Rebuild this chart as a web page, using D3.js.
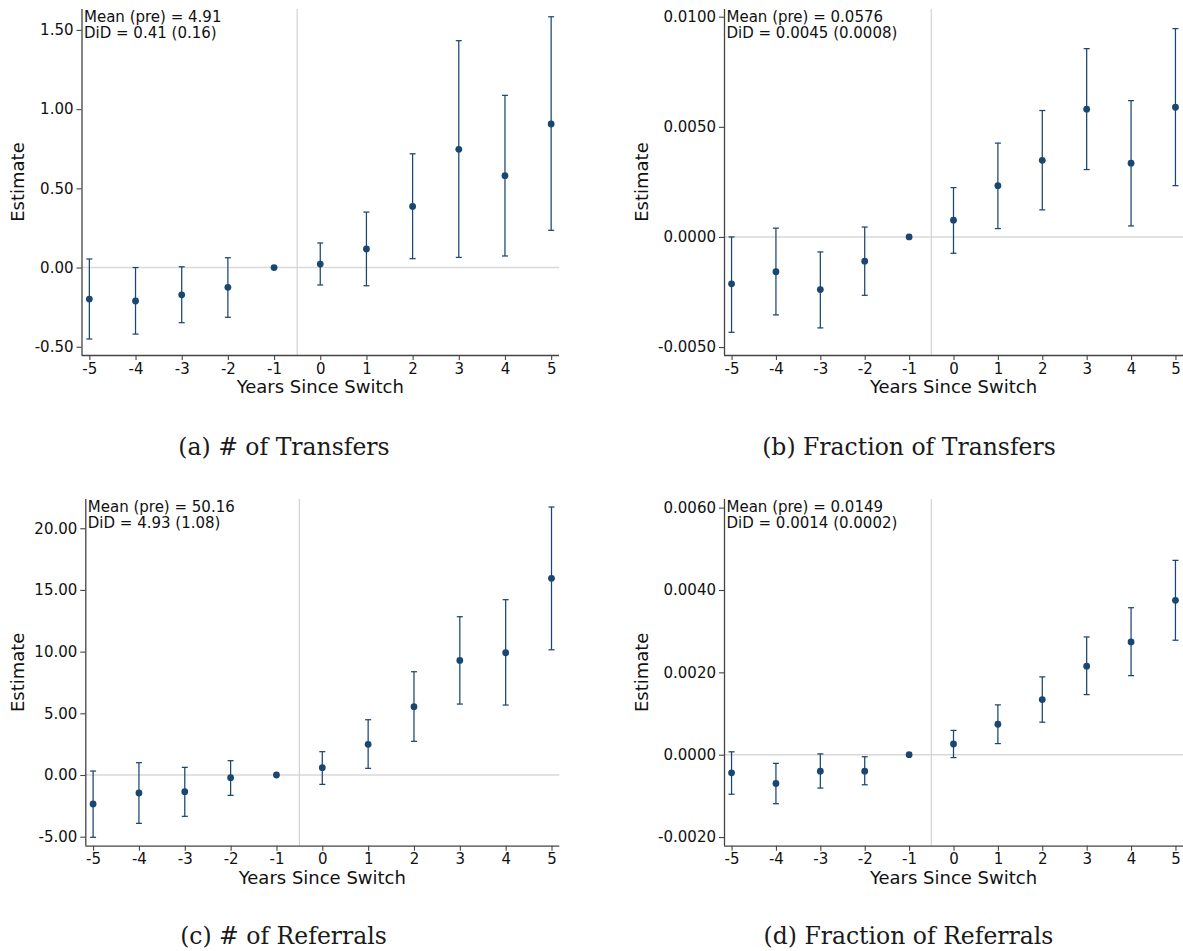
<!DOCTYPE html>
<html>
<head>
<meta charset="utf-8">
<script src="https://cdn.jsdelivr.net/npm/d3@7"></script>
<style>
  html, body { margin: 0; padding: 0; background: #fff; }
  svg { display: block; }
  .tick text { font-family: "DejaVu Sans", sans-serif; }
</style>
</head>
<body>
<svg id="chart" width="1183" height="951"></svg>
<script>
// Event-study estimates by years since switch, with 95% confidence intervals
const years = [-5, -4, -3, -2, -1, 0, 1, 2, 3, 4, 5];

const transfersEst = [-0.199, -0.211, -0.172, -0.125, 0, 0.022, 0.117, 0.386, 0.746, 0.580, 0.906];
const transfersLo  = [-0.451, -0.420, -0.348, -0.314, 0, -0.110, -0.115, 0.056, 0.064, 0.073, 0.235];
const transfersHi  = [0.054, 0.000, 0.005, 0.062, 0, 0.155, 0.350, 0.718, 1.432, 1.087, 1.583];

const fracTransfersEst = [-0.00213, -0.00158, -0.00239, -0.00110, 0, 0.00076, 0.00233, 0.00348, 0.00580, 0.00335, 0.00589];
const fracTransfersLo  = [-0.00433, -0.00354, -0.00413, -0.00265, 0, -0.00074, 0.00038, 0.00123, 0.00306, 0.00050, 0.00233];
const fracTransfersHi  = [0.00000, 0.00040, -0.00068, 0.00045, 0, 0.00224, 0.00426, 0.00574, 0.00855, 0.00619, 0.00946];

const referralsEst = [-2.35, -1.46, -1.35, -0.22, 0, 0.59, 2.49, 5.54, 9.29, 9.91, 15.94];
const referralsLo  = [-5.05, -3.92, -3.35, -1.65, 0, -0.76, 0.54, 2.73, 5.75, 5.67, 10.15];
const referralsHi  = [0.32, 1.00, 0.62, 1.16, 0, 1.89, 4.48, 8.37, 12.83, 14.21, 21.72];

const fracReferralsEst = [-0.00044, -0.00070, -0.00040, -0.00040, 0, 0.00026, 0.00074, 0.00134, 0.00215, 0.00274, 0.00375];
const fracReferralsLo  = [-0.00096, -0.00119, -0.00081, -0.00073, 0, -0.00007, 0.00027, 0.00079, 0.00146, 0.00192, 0.00278];
const fracReferralsHi  = [0.00007, -0.00021, 0.00002, -0.00005, 0, 0.00059, 0.00121, 0.00189, 0.00286, 0.00357, 0.00472];

// Axis ticks
const transfersTicks = [-0.5, 0, 0.5, 1.0, 1.5];
const fracTransfersTicks = [-0.005, 0, 0.005, 0.01];
const referralsTicks = [-5, 0, 5, 10, 15, 20];
const fracReferralsTicks = [-0.002, 0, 0.002, 0.004, 0.006];

// Annotations and captions
const transfersNote = ["Mean (pre) = 4.91", "DiD = 0.41 (0.16)"];
const fracTransfersNote = ["Mean (pre) = 0.0576", "DiD = 0.0045 (0.0008)"];
const referralsNote = ["Mean (pre) = 50.16", "DiD = 4.93 (1.08)"];
const fracReferralsNote = ["Mean (pre) = 0.0149", "DiD = 0.0014 (0.0002)"];

const captions = ["(a) # of Transfers", "(b) Fraction of Transfers", "(c) # of Referrals", "(d) Fraction of Referrals"];

const xLabel = "Years Since Switch";
const yLabel = "Estimate";

const NAVY = "#1a476f";
const locale = d3.formatLocale({decimal: ".", thousands: ",", grouping: [3], currency: ["$", ""], minus: "-"});

const panels = [
  {est: transfersEst, lo: transfersLo, hi: transfersHi, ticks: transfersTicks, fmt: ".2f",
   note: transfersNote, caption: captions[0],
   frame: {left: 81.5, right: 559, top: 9, bottom: 355}, yDomain: [-0.552, 1.632],
   labelX: 17.5, capX: 284, capY: 455},
  {est: fracTransfersEst, lo: fracTransfersLo, hi: fracTransfersHi, ticks: fracTransfersTicks, fmt: ".4f",
   note: fracTransfersNote, caption: captions[1],
   frame: {left: 724, right: 1183, top: 9, bottom: 355}, yDomain: [-0.00536, 0.01035],
   labelX: 641.5, capX: 909, capY: 455},
  {est: referralsEst, lo: referralsLo, hi: referralsHi, ticks: referralsTicks, fmt: ".2f",
   note: referralsNote, caption: captions[2],
   frame: {left: 85.3, right: 559.3, top: 499, bottom: 845.7}, yDomain: [-5.73, 22.37],
   labelX: 17.5, capX: 283.5, capY: 944},
  {est: fracReferralsEst, lo: fracReferralsLo, hi: fracReferralsHi, ticks: fracReferralsTicks, fmt: ".4f",
   note: fracReferralsNote, caption: captions[3],
   frame: {left: 724, right: 1183, top: 499, bottom: 845.7}, yDomain: [-0.00221, 0.00621],
   labelX: 641.5, capX: 908.5, capY: 944}
];

const svg = d3.select("#chart");

panels.forEach(p => {
  const f = p.frame;
  const x = d3.scaleLinear().domain([-5.17, 5.17]).range([f.left, f.right]);
  const y = d3.scaleLinear().domain(p.yDomain).range([f.bottom, f.top]);
  const g = svg.append("g");

  const rows = years.map((yr, i) => ({yr, est: p.est[i], lo: p.lo[i], hi: p.hi[i]}));

  // reference lines
  g.append("line")
    .attr("x1", f.left).attr("x2", f.right)
    .attr("y1", y(0)).attr("y2", y(0))
    .attr("stroke", "#d9d9d9").attr("stroke-width", 1.6);
  g.append("line")
    .attr("x1", x(-0.5)).attr("x2", x(-0.5))
    .attr("y1", f.top).attr("y2", f.bottom)
    .attr("stroke", "#cfcfcf").attr("stroke-width", 1.1);

  // confidence intervals
  const ci = g.append("g").attr("stroke", NAVY).attr("stroke-width", 1.25).attr("fill", "none");
  const withCI = rows.filter(d => d.hi !== d.lo);
  ci.selectAll("line.v").data(withCI).join("line").attr("class", "v")
    .attr("x1", d => x(d.yr)).attr("x2", d => x(d.yr))
    .attr("y1", d => y(d.lo)).attr("y2", d => y(d.hi));
  ci.selectAll("line.top").data(withCI).join("line").attr("class", "top")
    .attr("x1", d => x(d.yr) - 3).attr("x2", d => x(d.yr) + 3)
    .attr("y1", d => y(d.hi)).attr("y2", d => y(d.hi));
  ci.selectAll("line.bot").data(withCI).join("line").attr("class", "bot")
    .attr("x1", d => x(d.yr) - 3).attr("x2", d => x(d.yr) + 3)
    .attr("y1", d => y(d.lo)).attr("y2", d => y(d.lo));

  // point estimates
  g.selectAll("circle").data(rows).join("circle")
    .attr("cx", d => x(d.yr)).attr("cy", d => y(d.est))
    .attr("r", 3.4).attr("fill", NAVY);

  // axes
  const xAxis = d3.axisBottom(x).tickValues(years).tickFormat(locale.format("d"))
    .tickSizeOuter(0).tickSize(5).tickPadding(3);
  const gx = g.append("g").attr("transform", `translate(0,${f.bottom})`).call(xAxis);
  const yAxis = d3.axisLeft(y).tickValues(p.ticks).tickFormat(locale.format(p.fmt))
    .tickSizeOuter(0).tickSize(5).tickPadding(3);
  const gy = g.append("g").attr("transform", `translate(${f.left},0)`).call(yAxis);
  [gx, gy].forEach(a => {
    a.select(".domain").attr("stroke", "#444").attr("stroke-width", 1.3);
    a.selectAll(".tick line").attr("stroke", "#444").attr("stroke-width", 1.1);
    a.selectAll(".tick text").attr("fill", "#111").style("font-size", "15px");
  });
  gy.select(".domain").attr("d", `M0.5,${f.top}V${f.bottom}`);
  gx.select(".domain").attr("d", `M${f.left},0.5H${f.right}`);

  // axis titles
  g.append("text")
    .attr("x", (f.left + f.right) / 2).attr("y", f.bottom + 38)
    .attr("text-anchor", "middle")
    .style("font-family", "DejaVu Sans, sans-serif").style("font-size", "18px").attr("fill", "#111")
    .text(xLabel);
  g.append("text")
    .attr("transform", `translate(${p.labelX + 6},${(f.top + f.bottom) / 2}) rotate(-90)`)
    .attr("text-anchor", "middle")
    .style("font-family", "DejaVu Sans, sans-serif").style("font-size", "18px").attr("fill", "#111")
    .text(yLabel);

  // summary statistics
  g.append("g").selectAll("text").data(p.note).join("text")
    .attr("x", f.left + 2.5).attr("y", (d, i) => f.top + 12.7 + i * 16)
    .style("font-family", "DejaVu Sans, sans-serif").style("font-size", "15px").attr("fill", "#111")
    .text(d => d);

  // caption
  svg.append("text")
    .attr("x", p.capX).attr("y", p.capY)
    .attr("text-anchor", "middle")
    .style("font-family", "DejaVu Serif, serif").style("font-size", "23.5px").attr("fill", "#1a1a1a")
    .text(p.caption);
});
</script>
</body>
</html>
